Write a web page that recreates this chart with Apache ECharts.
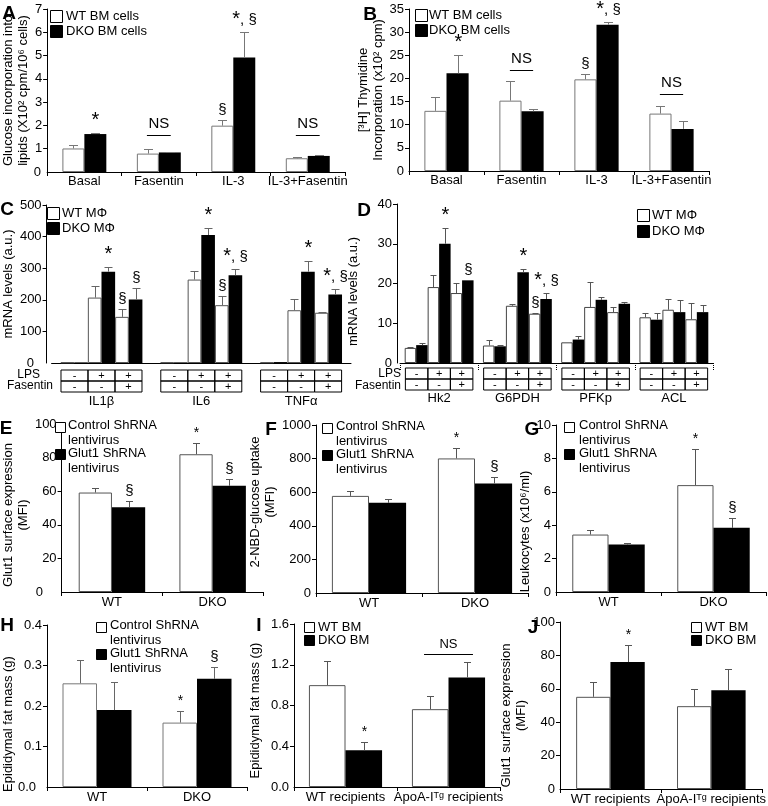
<!DOCTYPE html>
<html><head><meta charset="utf-8">
<script src="https://cdn.jsdelivr.net/npm/echarts@6/dist/echarts.min.js"></script>
<style>html,body{margin:0;padding:0;background:#fff}#c{width:768px;height:806px}</style>
</head><body><div id="c"></div>
<script>
// ================= DATA =================
// Panel A
const catsAB = ['Basal', 'Fasentin', 'IL-3', 'IL-3+Fasentin'];
const aTicks = [0, 1, 2, 3, 4, 5, 6, 7];
const aWT = [1.01, 0.79, 1.99, 0.59];
const aWTerr = [1.15, 0.98, 2.24, 0.65];
const aDKO = [1.63, 0.84, 4.92, 0.69];
const aDKOerr = [1.69, 0.88, 6.0, 0.74];
const aWTmarks = ['', '', '§', ''];
const aDKOmarks = ['*', '', '*, §', ''];
const aNS = [[1, 1.6], [3, 1.6]];
// Panel B
const bTicks = [0, 5, 10, 15, 20, 25, 30, 35];
const bWT = [13.0, 15.2, 19.8, 12.4];
const bWTerr = [15.9, 19.5, 21.0, 14.0];
const bDKO = [21.1, 12.9, 31.6, 9.1];
const bDKOerr = [25.0, 13.5, 32.1, 10.8];
const bWTmarks = ['', '', '§', ''];
const bDKOmarks = ['*', '', '*, §', ''];
const bNS = [[1, 21.8], [3, 16.6]];
// Panel C
const catsC = ['IL1β', 'IL6', 'TNFα'];
const cTicks = [0, 100, 200, 300, 400, 500];
const lpsRow = ['-', '+', '+'];
const fasRow = ['-', '-', '+'];
const cWTneg = [2, 2, 2],        cWTnegErr = [2, 2, 2];
const cDKOneg = [2, 2, 3],       cDKOnegErr = [2, 2, 3];
const cWTlps = [207, 264, 167],  cWTlpsErr = [243, 291, 201];
const cDKOlps = [289, 405, 289], cDKOlpsErr = [304, 426, 323];
const cWTboth = [146, 183, 159], cWTbothErr = [172, 211, 162];
const cDKOboth = [201, 278, 217],cDKObothErr = [236, 299, 233];
const cDKOlpsMarks = ['*', '*', '*'];
const cWTbothMarks = ['§', '§', ''];
const cDKObothMarks = ['§', '*, §', '*, §'];
// Panel D
const catsD = ['Hk2', 'G6PDH', 'PFKp', 'ACL'];
const dTicks = [0, 10, 20, 30, 40];
const dWTneg = [3.8, 4.4, 5.2, 11.5],    dWTnegErr = [4.0, 5.7, 5.2, 12.6];
const dDKOneg = [4.5, 4.2, 5.9, 10.9],   dDKOnegErr = [5.0, 4.5, 6.9, 12.6];
const dWTlps = [19.1, 14.4, 14.1, 13.4], dWTlpsErr = [22.2, 14.8, 20.5, 16.1];
const dDKOlps = [30.0, 22.8, 15.9, 12.8],dDKOlpsErr = [33.9, 23.6, 16.6, 15.9];
const dWTboth = [17.6, 12.4, 12.8, 11.0],dWTbothErr = [20.1, 12.6, 14.2, 15.2];
const dDKOboth = [20.8, 16.1, 14.9, 12.8],dDKObothErr = [20.9, 17.6, 15.4, 14.6];
const dDKOlpsMarks = ['*', '*', '', ''];
const dWTbothMarks = ['', '§', '', ''];
const dDKObothMarks = ['§', '*, §', '', ''];
// Panels E, F, G, H
const catsEH = ['WT', 'DKO'];
const eTicks = [0, 20, 40, 60, 80, 100];
const eCtrl = [59.2, 82.0], eCtrlErr = [61.8, 88.5];
const eGlut = [50.5, 63.2], eGlutErr = [53.9, 67.3];
const eCtrlMarks = ['', '*'], eGlutMarks = ['§', '§'];
const fTicks = [0, 200, 400, 600, 800, 1000];
const fCtrl = [578, 801], fCtrlErr = [606, 865];
const fGlut = [537, 652], fGlutErr = [557, 692];
const fCtrlMarks = ['', '*'], fGlutMarks = ['', '§'];
const gTicks = [0, 2, 4, 6, 8, 10];
const gCtrl = [3.44, 6.4], gCtrlErr = [3.74, 8.58];
const gGlut = [2.84, 3.84], gGlutErr = [2.94, 4.42];
const gCtrlMarks = ['', '*'], gGlutMarks = ['', '§'];
const hTicks = [0, 0.1, 0.2, 0.3, 0.4];
const hCtrl = [0.256, 0.159], hCtrlErr = [0.314, 0.188];
const hGlut = [0.190, 0.267], hGlutErr = [0.259, 0.296];
const hCtrlMarks = ['', '*'], hGlutMarks = ['', '§'];
// Panels I, J
const catsIJ = ['WT recipients', 'ApoA-I^Tg recipients'];
const iTicks = [0, 0.4, 0.8, 1.2, 1.6];
const iWT = [1.0, 0.764], iWTerr = [1.24, 0.89];
const iDKO = [0.36, 1.075], iDKOerr = [0.44, 1.23];
const iWTmarks = ['', ''], iDKOmarks = ['*', ''];
const iNS = [[1, 1.305]];
const jTicks = [0, 20, 40, 60, 80, 100];
const jWT = [55.2, 49.6], jWTerr = [64, 60];
const jDKO = [76, 59.2], jDKOerr = [86, 71.6];
const jWTmarks = ['', ''], jDKOmarks = ['*', ''];

// ================= BUILD =================
const FONT = '"Liberation Sans", Arial, Helvetica, sans-serif';
const grids = [], xAxes = [], yAxes = [], series = [], graphics = [];

function errSeries(gi, n, k, gap, vals, errs, marks, o) {
  return {
    type: 'custom', xAxisIndex: gi, yAxisIndex: gi, z: 5, silent: true, animation: false,
    data: vals.map((v, i) => [i, errs[i], v]),
    renderItem: function (params, api) {
      const i = api.value(0);
      const pTop = api.coord([i, api.value(1)]);
      const pBar = api.coord([i, api.value(2)]);
      const band = api.size([1, 0])[0];
      const bw = band * (1 - gap) / n;
      const x = Math.round(pTop[0] + (k - (n - 1) / 2) * bw) + 0.5;
      const ch = [];
      let yTop = pBar[1];
      if (api.value(1) > api.value(2) + 1e-9) {
        yTop = Math.round(pTop[1]) + 0.5;
        ch.push({type: 'line', shape: {x1: x, y1: pBar[1], x2: x, y2: yTop}, style: {stroke: o.errColor, lineWidth: 1}});
        ch.push({type: 'line', shape: {x1: x - o.cap, y1: yTop, x2: x + o.cap, y2: yTop}, style: {stroke: o.errColor, lineWidth: 1}});
      }
      const m = marks ? marks[params.dataIndex] : '';
      if (m) {
        ch.push({type: 'text', x: x, y: yTop - 3, style: {
          text: m.split('*').join('{s|*}'),
          rich: {s: {fontSize: o.star, fontFamily: FONT, fill: '#000'}},
          fontSize: 15, fontFamily: FONT, fill: '#000', align: 'center', verticalAlign: 'bottom'}});
      }
      return {type: 'group', children: ch};
    }
  };
}

function nsSeries(gi, data, frac, fs) {
  return {
    type: 'custom', xAxisIndex: gi, yAxisIndex: gi, z: 5, silent: true, animation: false, data: data,
    renderItem: function (params, api) {
      const p = api.coord([api.value(0), api.value(1)]);
      const half = api.size([1, 0])[0] * frac / 2;
      const y = Math.round(p[1]) + 0.5;
      return {type: 'group', children: [
        {type: 'line', shape: {x1: p[0] - half, y1: y, x2: p[0] + half, y2: y}, style: {stroke: '#000', lineWidth: 1}},
        {type: 'text', x: p[0], y: y - 4, style: {text: 'NS', fontSize: fs, fontFamily: FONT, fill: '#000', align: 'center', verticalAlign: 'bottom'}}
      ]};
    }
  };
}

function addPanel(o) {
  const gi = grids.length;
  grids.push({left: o.box[0], top: o.box[1], width: o.box[2], height: o.box[3]});
  const t = o.ticks;
  const fmt = o.yFmt || (v => String(v));
  const xa = {
    type: 'category', gridIndex: gi, data: o.cats,
    axisLine: {show: true, onZero: false, lineStyle: {color: '#000', width: 1}},
    axisTick: {show: true, length: 4, lineStyle: {color: '#000'}},
    axisLabel: {color: '#000', fontSize: 13, fontFamily: FONT, margin: o.xMargin || 3, interval: 0},
    splitLine: {show: false}
  };
  if (o.xTick) xa.axisTick = o.xTick;
  if (o.xLabel) Object.assign(xa.axisLabel, o.xLabel);
  xAxes.push(xa);
  yAxes.push({
    type: 'value', gridIndex: gi, min: t[0], max: t[t.length - 1], interval: t[1] - t[0],
    offset: o.yOffset || 0,
    name: o.yName, nameLocation: 'middle', nameGap: o.nameGap,
    nameTextStyle: {color: '#000', fontSize: 13, fontFamily: FONT, lineHeight: 15, padding: o.namePad || 0},
    axisLine: {show: true, onZero: false, lineStyle: {color: '#000'}},
    axisTick: {show: true, length: 4, lineStyle: {color: '#000'}},
    axisLabel: {color: '#000', fontSize: 13, fontFamily: FONT, margin: 5, showMinLabel: false, formatter: fmt},
    splitLine: {show: false}
  });
  const n = o.bars.length;
  o.bars.forEach((b, k) => {
    series.push({
      type: 'bar', name: b.name, xAxisIndex: gi, yAxisIndex: gi, data: b.v,
      barGap: '0%', barCategoryGap: (o.gap * 100) + '%', silent: true, animation: false,
      itemStyle: b.white ? {color: '#fff', borderColor: o.border, borderWidth: 1} : {color: '#000'}
    });
  });
  o.bars.forEach((b, k) => {
    series.push(errSeries(gi, n, k, o.gap, b.v, b.e, b.m, {errColor: o.errColor, cap: o.cap, star: o.star}));
  });
  if (o.ns) series.push(nsSeries(gi, o.ns, o.nsFrac, o.nsSize));
  // lowest tick label, set at the foot of the y axis (the axis itself hides it at the crossing)
  const axisX = o.box[0] - (o.yOffset || 0);
  graphics.push({type: 'text', x: axisX - 5, y: o.box[1] + o.box[3], z: 20,
    style: {text: fmt(t[0]), fontSize: 13, fontFamily: FONT, fill: '#000', align: 'right', verticalAlign: 'middle'}});
}

// ---- A ----
addPanel({box: [46, 9, 299, 163], cats: catsAB, ticks: aTicks, gap: 0.41, border: '#777', errColor: '#777', cap: 4.5, star: 20,
  yName: 'Glucose incorporation into\nlipids (X10² cpm/10⁶ cells)', nameGap: 13,
  bars: [{name: 'WT BM cells', white: true, v: aWT, e: aWTerr, m: aWTmarks}, {name: 'DKO BM cells', v: aDKO, e: aDKOerr, m: aDKOmarks}],
  ns: aNS, nsFrac: 0.32, nsSize: 15});
// ---- B ----
addPanel({box: [409, 9, 300, 162], cats: catsAB, ticks: bTicks, gap: 0.41, border: '#777', errColor: '#777', cap: 4.5, star: 20,
  yName: '[³H] Thymidine\nIncorporation (x10² cpm)', nameGap: 22,
  bars: [{name: 'WT BM cells', white: true, v: bWT, e: bWTerr, m: bWTmarks}, {name: 'DKO BM cells', v: bDKO, e: bDKOerr, m: bDKOmarks}],
  ns: bNS, nsFrac: 0.31, nsSize: 15});

// ---- C / D tables ----
function tableText(name) {
  return lpsRow.map(s => '{t|' + s + '}').join('') + '\n' + fasRow.map(s => '{t|' + s + '}').join('') + '\n{n|' + name + '}';
}
function tableRich(w, nameLH) {
  return {
    t: {width: w, height: 11, lineHeight: 11, align: 'center', verticalAlign: 'middle', borderColor: '#000', borderWidth: 1, fontSize: 11, fontFamily: FONT, color: '#000'},
    n: {fontSize: 13, lineHeight: nameLH, align: 'center', fontFamily: FONT, color: '#000'}
  };
}
addPanel({box: [44, 205, 307, 158], yOffset: 5, cats: catsC, ticks: cTicks, gap: 0.18, border: '#555', errColor: '#666', cap: 4, star: 20,
  yName: 'mRNA levels (a.u.)', nameGap: 24,
  xTick: {show: false}, xLabel: {margin: 7, formatter: tableText, rich: tableRich(27, 19)},
  bars: [
    {name: 'WT MΦ', white: true, v: cWTneg, e: cWTnegErr},
    {name: 'DKO MΦ', v: cDKOneg, e: cDKOnegErr},
    {name: 'WT MΦ', white: true, v: cWTlps, e: cWTlpsErr},
    {name: 'DKO MΦ', v: cDKOlps, e: cDKOlpsErr, m: cDKOlpsMarks},
    {name: 'WT MΦ', white: true, v: cWTboth, e: cWTbothErr, m: cWTbothMarks},
    {name: 'DKO MΦ', v: cDKOboth, e: cDKObothErr, m: cDKObothMarks}]});
addPanel({box: [400, 204, 313, 159], yOffset: 3, cats: catsD, ticks: dTicks, gap: 0.12, border: '#444', errColor: '#555', cap: 3, star: 20,
  yName: 'mRNA levels (a.u.)', nameGap: 36, namePad: [0, 16, 0, 0],
  xTick: {show: true, length: 8, lineStyle: {color: '#000', type: 'dotted'}}, xLabel: {margin: 5, formatter: tableText, rich: tableRich(22.5, 16)},
  bars: [
    {name: 'WT MΦ', white: true, v: dWTneg, e: dWTnegErr},
    {name: 'DKO MΦ', v: dDKOneg, e: dDKOnegErr},
    {name: 'WT MΦ', white: true, v: dWTlps, e: dWTlpsErr},
    {name: 'DKO MΦ', v: dDKOlps, e: dDKOlpsErr, m: dDKOlpsMarks},
    {name: 'WT MΦ', white: true, v: dWTboth, e: dWTbothErr, m: dWTbothMarks},
    {name: 'DKO MΦ', v: dDKOboth, e: dDKObothErr, m: dDKObothMarks}]});

// ---- E F G ----
const ctrlName = 'Control ShRNA lentivirus', glutName = 'Glut1 ShRNA lentivirus';
addPanel({box: [48, 424, 215, 168], cats: catsEH, ticks: eTicks, gap: 0.34, border: '#555', errColor: '#555', cap: 3.5, star: 14, xMargin: 4,
  yName: 'Glut1 surface expression\n(MFI)', nameGap: 20, namePad: [0, 14, 0, 0],
  bars: [{name: ctrlName, white: true, v: eCtrl, e: eCtrlErr, m: eCtrlMarks}, {name: glutName, v: eGlut, e: eGlutErr, m: eGlutMarks}]});
addPanel({box: [316, 425, 212, 168], cats: catsEH, ticks: fTicks, gap: 0.30, border: '#555', errColor: '#555', cap: 3.5, star: 14, xMargin: 4,
  yName: '2-NBD-glucose uptake\n(MFI)', nameGap: 21, namePad: [0, 0, 0, 14],
  bars: [{name: ctrlName, white: true, v: fCtrl, e: fCtrlErr, m: fCtrlMarks}, {name: glutName, v: fGlut, e: fGlutErr, m: fGlutMarks}]});
addPanel({box: [556, 425, 210, 167], cats: catsEH, ticks: gTicks, gap: 0.31, border: '#555', errColor: '#555', cap: 3.5, star: 14, xMargin: 4,
  yName: 'Leukocytes (x10⁶/ml)', nameGap: 10, namePad: [0, 46, 0, 0],
  bars: [{name: ctrlName, white: true, v: gCtrl, e: gCtrlErr, m: gCtrlMarks}, {name: glutName, v: gGlut, e: gGlutErr, m: gGlutMarks}]});
// ---- H I J ----
addPanel({box: [41, 625, 206, 162], cats: catsEH, ticks: hTicks, gap: 0.31, border: '#777', errColor: '#666', cap: 3.5, star: 14, xMargin: 4,
  yName: 'Epididymal fat mass (g)', nameGap: 31, namePad: [0, 36, 0, 0], yFmt: v => v.toFixed(1),
  bars: [{name: ctrlName, white: true, v: hCtrl, e: hCtrlErr, m: hCtrlMarks}, {name: glutName, v: hGlut, e: hGlutErr, m: hGlutMarks}]});
const ijLabel = {formatter: v => v.replace('^Tg', '{sup|Tg}'), rich: {sup: {fontSize: 9, lineHeight: 9, verticalAlign: 'top', fontFamily: FONT, color: '#000'}}};
addPanel({box: [294, 624, 206, 163], cats: catsIJ, ticks: iTicks, gap: 0.29, border: '#555', errColor: '#555', cap: 3.5, star: 14, xMargin: 4,
  yName: 'Epididymal fat mass (g)', nameGap: 31, namePad: [0, 10, 0, 0], yFmt: v => v.toFixed(1), xLabel: ijLabel,
  bars: [{name: 'WT BM', white: true, v: iWT, e: iWTerr, m: iWTmarks}, {name: 'DKO BM', v: iDKO, e: iDKOerr, m: iDKOmarks}],
  ns: iNS, nsFrac: 0.475, nsSize: 13});
addPanel({box: [560, 622, 206, 167], cats: catsIJ, ticks: jTicks, gap: 0.32, border: '#555', errColor: '#555', cap: 3.5, star: 14, xMargin: 4,
  yName: 'Glut1 surface expression\n(MFI)', nameGap: 22, namePad: [0, 20, 0, 0], xLabel: ijLabel,
  bars: [{name: 'WT BM', white: true, v: jWT, e: jWTerr, m: jWTmarks}, {name: 'DKO BM', v: jDKO, e: jDKOerr, m: jDKOmarks}]});

// ================= GRAPHICS (legends, letters, row labels) =================
function box(x, y, s, white) {
  graphics.push({type: 'rect', shape: {x: x + 0.5, y: y + 0.5, width: s, height: s}, style: {fill: white ? '#fff' : '#000', stroke: '#000', lineWidth: 1}, z: 10});
}
function txt(x, y, s, o) {
  o = o || {};
  graphics.push({type: 'text', x: x, y: y, z: 10, style: {text: s, fontSize: o.size || 13, fontFamily: FONT, fontWeight: o.bold ? 'bold' : 'normal',
    fill: '#000', align: o.align || 'left', verticalAlign: o.va || 'middle', lineHeight: o.lh || 15}});
}
// legends
box(50, 10, 12, true); txt(66, 16, 'WT BM cells');
box(50, 25, 12, false); txt(66, 31, 'DKO BM cells');
box(415, 9, 12, true); txt(429, 15, 'WT BM cells');
box(415, 24, 12, false); txt(429, 30, 'DKO BM cells');
box(47, 207, 12, true); txt(62, 213, 'WT MΦ');
box(47, 222, 12, false); txt(62, 228, 'DKO MΦ');
box(637, 209, 12, true); txt(652, 215, 'WT MΦ');
box(637, 225, 12, false); txt(652, 231, 'DKO MΦ');
[[55, 68, 422], [322, 336, 423], [564, 579, 422], [96, 110, 622]].forEach(([bx, tx, y]) => {
  box(bx, y, 10, true); txt(tx, y - 4, 'Control ShRNA\nlentivirus', {va: 'top'});
  box(bx, y + 27, 10, false); txt(tx, y + 24, 'Glut1 ShRNA\nlentivirus', {va: 'top'});
});
box(304, 622, 10, true); txt(318, 627, 'WT BM');
box(304, 635, 10, false); txt(318, 640, 'DKO BM');
box(691, 622, 10, true); txt(705, 627, 'WT BM');
box(691, 635, 10, false); txt(705, 640, 'DKO BM');
// row labels of the tables
txt(40, 375, 'LPS', {align: 'right', size: 12});
txt(53, 386, 'Fasentin', {align: 'right', size: 12});
txt(401, 374, 'LPS', {align: 'right', size: 12});
txt(401, 386, 'Fasentin', {align: 'right', size: 12});
// panel letters
[['A', 9, 14], ['B', 370, 15], ['C', 7, 210], ['D', 364, 211], ['E', 6, 429], ['F', 271, 430],
 ['G', 532, 430], ['H', 7, 626], ['I', 259, 626], ['J', 533, 628]].forEach(([s, x, y]) => txt(x, y, s, {bold: true, size: 19, align: 'center'}));

const chart = echarts.init(document.getElementById('c'), null, {renderer: 'canvas'});
chart.setOption({
  animation: false, backgroundColor: '#fff',
  grid: grids, xAxis: xAxes, yAxis: yAxes, series: series, graphic: graphics
});
</script></body></html>
